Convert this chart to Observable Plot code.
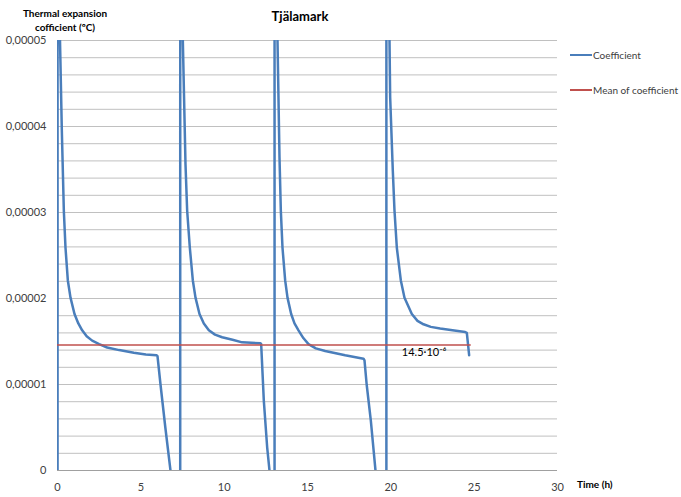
<!DOCTYPE html>
<html>
<head>
<meta charset="utf-8">
<script src="https://cdn.jsdelivr.net/npm/d3@7"></script>
<script src="https://cdn.jsdelivr.net/npm/@observablehq/plot@0.6"></script>
<style>
  html, body { margin: 0; padding: 0; background: #fff; }
  #chart { width: 681px; height: 497px; }
  svg { font-family: Lato, "Open Sans", sans-serif; }
</style>
</head>
<body>
<div id="chart"></div>
<script>
// Time (h)
const coefTime = [
  0, 0.01, 0.15, 0.26, 0.38, 0.48, 0.62, 0.78, 1.02, 1.25, 1.48, 1.75, 2.08, 2.5, 2.98, 3.7, 4.58, 5.3, 5.94, 6.0, 6.18, 6.47, 6.78, 7.0, 7.36,
  7.37, 7.52, 7.68, 7.78, 7.94, 8.12, 8.28, 8.52, 8.78, 9.08, 9.45, 9.88, 10.5, 11.08, 12.18, 12.22, 12.38, 12.58, 12.72, 12.85, 13.02,
  13.03, 13.2, 13.32, 13.4, 13.5, 13.66, 13.8, 14.02, 14.22, 14.46, 14.75, 15.06, 15.5, 16.06, 17.26, 18.36, 18.42, 18.55, 18.8, 19.08, 19.3, 19.73,
  19.74, 19.92, 19.96, 20.12, 20.22, 20.36, 20.6, 20.82, 21.26, 21.6, 21.96, 22.4, 22.96, 23.7, 24.46, 24.56, 24.7
];
// Thermal expansion coefficient
const coefValue = [
  -0.001, 0.002, 0.0000500, 0.0000395, 0.0000302, 0.0000259, 0.0000221, 0.0000201, 0.0000182, 0.0000171, 0.0000163, 0.0000156, 0.0000151, 0.0000147, 0.0000143, 0.0000140, 0.0000137, 0.0000135, 0.0000134, 0.0000133, 0.0000100, 0.0000050, 0, -0.00002, -0.001,
  0.002, 0.0000500, 0.0000356, 0.0000302, 0.0000259, 0.0000221, 0.0000201, 0.0000182, 0.0000171, 0.0000163, 0.0000158, 0.0000155, 0.0000152, 0.0000149, 0.0000148, 0.0000147, 0.0000081, 0.0000027, 0, -0.00002, -0.001,
  0.002, 0.0000500, 0.0000364, 0.0000302, 0.0000259, 0.0000221, 0.0000201, 0.0000182, 0.0000171, 0.0000163, 0.0000154, 0.0000147, 0.0000142, 0.0000139, 0.0000134, 0.0000130, 0.0000128, 0.0000100, 0.0000058, 0, -0.00002, -0.001,
  0.002, 0.0000500, 0.0000434, 0.0000348, 0.0000302, 0.0000259, 0.0000221, 0.0000201, 0.0000182, 0.0000174, 0.0000170, 0.0000167, 0.0000165, 0.0000163, 0.0000161, 0.0000160, 0.0000134
];
const meanTime = [0, 24.76];
const meanValue = [0.0000146, 0.0000146];
const meanLabel = ["14.5·10⁻⁶"];
const meanLabelPos = [{x: 22.0, y: 0.0000137}];

const xTicks = [0, 5, 10, 15, 20, 25, 30];
const yTicks = [0, 0.00001, 0.00002, 0.00003, 0.00004, 0.00005];
const gridTicks = d3.range(26).map(i => i * 0.000002);

const series = coefTime.map((t, i) => ({t, v: coefValue[i]}));
const mean = meanTime.map((t, i) => ({t, v: meanValue[i]}));

const BLUE = "#4a7ebb";
const RED = "#c0504d";
const TXT = "#404040";

const plot = Plot.plot({
  width: 681,
  height: 497,
  marginLeft: 57,
  marginRight: 124,
  marginTop: 40,
  marginBottom: 27,
  style: {fontFamily: "Lato, 'Open Sans', sans-serif", fontSize: "11px", color: TXT, background: "#fff"},
  x: {domain: [0, 30], ticks: xTicks, tickSize: 0, tickPadding: 13, label: null, tickFormat: d => String(d)},
  y: {domain: [0, 0.00005], ticks: yTicks, tickSize: 0, tickPadding: 11, label: null,
      tickFormat: v => v === 0 ? "0" : v.toFixed(5).replace(".", ",")},
  marks: [
    Plot.ruleY(gridTicks, {stroke: "#c0c0c0", strokeWidth: 1}),
    Plot.ruleY([0], {stroke: "#a0a0a0", strokeWidth: 1}),
    Plot.ruleX([0], {stroke: "#a0a0a0", strokeWidth: 1}),
    Plot.line(series, {x: "t", y: "v", stroke: BLUE, strokeWidth: 2.5, clip: true, curve: "linear"}),
    Plot.line(mean, {x: "t", y: "v", stroke: RED, strokeWidth: 1.5, clip: true}),
    Plot.text(meanLabelPos, {x: "x", y: "y", text: () => meanLabel[0], fontSize: 11, fill: "#000"})
  ]
});

document.getElementById("chart").appendChild(plot);

const svg = d3.select(plot);
svg.append("text").attr("x", 300).attr("y", 21).attr("text-anchor", "middle")
  .attr("font-size", 13).attr("font-weight", "bold").attr("fill", "#000").text("Tjälamark");
svg.append("text").attr("x", 65).attr("y", 17).attr("text-anchor", "middle")
  .attr("font-size", 10).attr("font-weight", "bold").attr("fill", "#000").text("Thermal expansion");
svg.append("text").attr("x", 65).attr("y", 31).attr("text-anchor", "middle")
  .attr("font-size", 10).attr("font-weight", "bold").attr("fill", "#000").text("cofficient (ºC)");
svg.append("text").attr("x", 577).attr("y", 488).attr("text-anchor", "start")
  .attr("font-size", 10).attr("font-weight", "bold").attr("fill", "#000").text("Time (h)");

const legend = [{label: "Coefficient", color: BLUE, y: 55}, {label: "Mean of coefficient", color: RED, y: 90}];
legend.forEach(d => {
  svg.append("line").attr("x1", 570).attr("x2", 592).attr("y1", d.y).attr("y2", d.y)
    .attr("stroke", d.color).attr("stroke-width", 2);
  svg.append("text").attr("x", 593).attr("y", d.y + 3.5).attr("font-size", 10)
    .attr("text-anchor", "start").attr("fill", TXT).text(d.label);
});
</script>
</body>
</html>
